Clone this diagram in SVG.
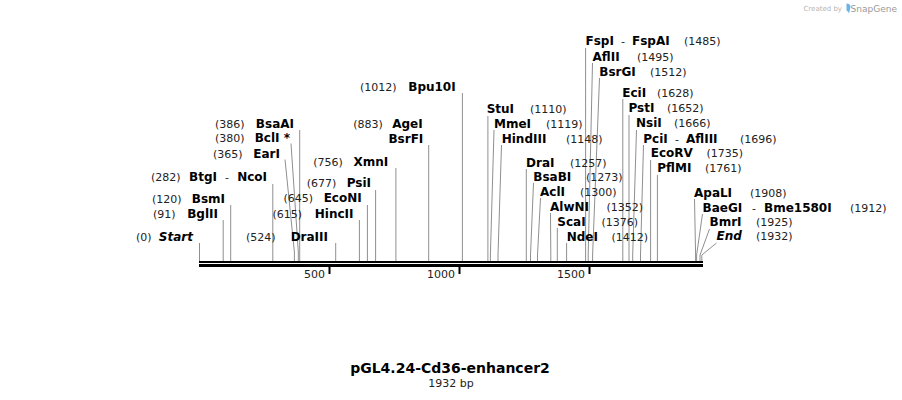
<svg xmlns="http://www.w3.org/2000/svg" width="902" height="400" viewBox="0 0 902 400">
<style>
.n{font-family:Verdana,"DejaVu Sans",sans-serif;font-size:12px;font-weight:bold;fill:#000}
.it{font-family:Verdana,"DejaVu Sans",sans-serif;font-size:12px;font-weight:bold;font-style:italic;fill:#000}
.num{font-family:Verdana,"DejaVu Sans",sans-serif;font-size:11px;fill:#222}
.dash{font-family:Verdana,"DejaVu Sans",sans-serif;font-size:11px;fill:#222}
.e{text-anchor:end}
.ld{fill:none;stroke:#8f8f8f;stroke-width:1}
.tk{font-family:Verdana,"DejaVu Sans",sans-serif;font-size:11px;fill:#222;text-anchor:end}
</style>
<rect width="902" height="400" fill="#fff"/>
<g id="logo">
<text x="842" y="11" font-family="'DejaVu Sans',sans-serif" font-size="7" fill="#b5b5b5" text-anchor="end">Created by</text>
<path d="M846.5,3.5 q4,0 4,3.5 l-1.5,6.5 q-0.5,-2 -2.5,-3 z" fill="#6ab4e8"/>
<text x="897" y="11.5" font-family="'DejaVu Sans',sans-serif" font-size="9" fill="#9a9a9a" text-anchor="end">SnapGene</text>
</g>
<g id="connectors">
<polyline class="ld" points="199.5,261 199.5,243"/>
<polyline class="ld" points="223.2,261 223.2,220"/>
<polyline class="ld" points="230.7,261 230.7,205"/>
<polyline class="ld" points="272.8,261 272.8,184"/>
<polyline class="ld" points="294.4,261 294.4,252 285,159.5"/>
<polyline class="ld" points="298.3,261 298.3,252 291,143.5"/>
<polyline class="ld" points="299.7,261 299.7,130"/>
<polyline class="ld" points="335.7,261 335.7,243"/>
<polyline class="ld" points="359.4,261 359.4,220"/>
<polyline class="ld" points="367.4,261 367.4,205"/>
<polyline class="ld" points="375.6,261 375.6,190"/>
<polyline class="ld" points="395.9,261 395.9,168"/>
<polyline class="ld" points="428.7,261 428.7,145"/>
<polyline class="ld" points="462.4,261 462.4,93"/>
<polyline class="ld" points="487.9,261 487.9,116"/>
<polyline class="ld" points="490.4,261 490.4,255 494,130"/>
<polyline class="ld" points="498,261 498,255 501.5,145"/>
<polyline class="ld" points="526.3,261 526.3,169"/>
<polyline class="ld" points="530.5,261 530.5,255 533.5,183"/>
<polyline class="ld" points="537.5,261 537.5,255 540.5,198"/>
<polyline class="ld" points="550.8,261 550.8,255 550.5,213"/>
<polyline class="ld" points="557.3,261 557.3,228"/>
<polyline class="ld" points="566.6,261 566.6,243"/>
<polyline class="ld" points="585.6,261 585.6,48"/>
<polyline class="ld" points="588.2,261 588.2,255 592.5,63"/>
<polyline class="ld" points="592.6,261 592.6,255 599.5,78"/>
<polyline class="ld" points="622.8,261 622.8,99"/>
<polyline class="ld" points="629,261 629,115"/>
<polyline class="ld" points="632.7,261 632.7,255 636.5,130"/>
<polyline class="ld" points="640.5,261 640.5,255 643.5,145"/>
<polyline class="ld" points="650.6,261 650.6,160"/>
<polyline class="ld" points="657.4,261 657.4,175"/>
<polyline class="ld" points="695.6,261 695.6,255 694.5,199"/>
<polyline class="ld" points="696.6,261 696.6,255 702.5,214"/>
<polyline class="ld" points="700,261 700,255 709.5,229"/>
<polyline class="ld" points="701.8,261 701.8,255 716.5,243"/>
</g>
<g id="backbone">
<rect x="199" y="261" width="504" height="2" fill="#000"/>
<rect x="199" y="264" width="504" height="3" fill="#000"/>
<rect x="328.5" y="266" width="2" height="8" fill="#000"/>
<rect x="458.5" y="266" width="2" height="8" fill="#000"/>
<rect x="588.5" y="266" width="2" height="8" fill="#000"/>
<text class="tk" x="325" y="278">500</text>
<text class="tk" x="455" y="278">1000</text>
<text class="tk" x="585" y="278">1500</text>
</g>
<g id="site-Start"><text class="num" x="136" y="241">(0)</text><text class="it e" x="193" y="241">Start</text></g>
<g id="site-BglII"><text class="num" x="153" y="217.5">(91)</text><text class="n e" x="218" y="217.5">BglII</text></g>
<g id="site-BsmI"><text class="num" x="152" y="202.5">(120)</text><text class="n e" x="225" y="202.5">BsmI</text></g>
<g id="site-BtgI"><text class="num" x="151" y="181">(282)</text><text class="n" x="189" y="181">BtgI</text><text class="dash" x="225" y="181">-</text><text class="n e" x="267" y="181">NcoI</text></g>
<g id="site-EarI"><text class="num" x="213" y="157.5">(365)</text><text class="n e" x="280" y="157.5">EarI</text></g>
<g id="site-BclI"><text class="num" x="215" y="142.3">(380)</text><text class="n e" x="290" y="142.3">BclI *</text></g>
<g id="site-BsaAI"><text class="num" x="215" y="127.7">(386)</text><text class="n e" x="294" y="127.7">BsaAI</text></g>
<g id="site-DraIII"><text class="num" x="246" y="240.5">(524)</text><text class="n e" x="328" y="240.5">DraIII</text></g>
<g id="site-HincII"><text class="num" x="272.5" y="217.5">(615)</text><text class="n e" x="353.5" y="217.5">HincII</text></g>
<g id="site-EcoNI"><text class="num" x="283.5" y="202.3">(645)</text><text class="n e" x="361.7" y="202.3">EcoNI</text></g>
<g id="site-PsiI"><text class="num" x="306.7" y="187.3">(677)</text><text class="n e" x="371" y="187.3">PsiI</text></g>
<g id="site-XmnI"><text class="num" x="313.3" y="165.7">(756)</text><text class="n e" x="388.3" y="165.7">XmnI</text></g>
<g id="site-AgeI"><text class="num" x="353.3" y="127.5">(883)</text><text class="n e" x="422.7" y="127.5">AgeI</text><text class="n e" x="423.3" y="142.7">BsrFI</text></g>
<g id="site-Bpu10I"><text class="num" x="360" y="90.7">(1012)</text><text class="n e" x="455.7" y="90.7">Bpu10I</text></g>
<g id="site-StuI"><text class="n" x="486.7" y="112.5">StuI</text><text class="num" x="530" y="112.5">(1110)</text></g>
<g id="site-MmeI"><text class="n" x="494" y="127.7">MmeI</text><text class="num" x="546" y="127.7">(1119)</text></g>
<g id="site-HindIII"><text class="n" x="501.7" y="142.7">HindIII</text><text class="num" x="566" y="142.7">(1148)</text></g>
<g id="site-DraI"><text class="n" x="526" y="166.5">DraI</text><text class="num" x="570" y="166.5">(1257)</text></g>
<g id="site-BsaBI"><text class="n" x="533.3" y="180.7">BsaBI</text><text class="num" x="586" y="180.7">(1273)</text></g>
<g id="site-AclI"><text class="n" x="540" y="195.7">AclI</text><text class="num" x="580" y="195.7">(1300)</text></g>
<g id="site-AlwNI"><text class="n" x="550" y="211">AlwNI</text><text class="num" x="606.5" y="211">(1352)</text></g>
<g id="site-ScaI"><text class="n" x="557.3" y="226">ScaI</text><text class="num" x="601.5" y="226">(1376)</text></g>
<g id="site-NdeI"><text class="n" x="566.7" y="241">NdeI</text><text class="num" x="611.5" y="241">(1412)</text></g>
<g id="site-FspI"><text class="n" x="585.5" y="45">FspI</text><text class="dash" x="621" y="45">-</text><text class="n" x="632" y="45">FspAI</text><text class="num" x="684" y="45">(1485)</text></g>
<g id="site-AflII"><text class="n" x="592.5" y="60.5">AflII</text><text class="num" x="637" y="60.5">(1495)</text></g>
<g id="site-BsrGI"><text class="n" x="599.3" y="75.7">BsrGI</text><text class="num" x="650" y="75.7">(1512)</text></g>
<g id="site-EciI"><text class="n" x="622.3" y="96.7">EciI</text><text class="num" x="657" y="96.7">(1628)</text></g>
<g id="site-PstI"><text class="n" x="628.5" y="112.3">PstI</text><text class="num" x="667" y="112.3">(1652)</text></g>
<g id="site-NsiI"><text class="n" x="636" y="127.3">NsiI</text><text class="num" x="674" y="127.3">(1666)</text></g>
<g id="site-PciI"><text class="n" x="643.3" y="142.7">PciI</text><text class="dash" x="675" y="142.7">-</text><text class="n" x="686" y="142.7">AflIII</text><text class="num" x="740" y="142.7">(1696)</text></g>
<g id="site-EcoRV"><text class="n" x="650.7" y="157.3">EcoRV</text><text class="num" x="706.5" y="157.3">(1735)</text></g>
<g id="site-PflMI"><text class="n" x="657.3" y="172.3">PflMI</text><text class="num" x="705" y="172.3">(1761)</text></g>
<g id="site-ApaLI"><text class="n" x="694" y="196.7">ApaLI</text><text class="num" x="750" y="196.7">(1908)</text></g>
<g id="site-BaeGI"><text class="n" x="702.5" y="211.7">BaeGI</text><text class="dash" x="752" y="211.7">-</text><text class="n" x="764" y="211.7">Bme1580I</text><text class="num" x="850" y="211.7">(1912)</text></g>
<g id="site-BmrI"><text class="n" x="709.5" y="225.7">BmrI</text><text class="num" x="756" y="225.7">(1925)</text></g>
<g id="site-End"><text class="it" x="716.5" y="240">End</text><text class="num" x="756" y="240">(1932)</text></g>
<g id="title">
<text x="450" y="373.3" font-family="Verdana,'DejaVu Sans',sans-serif" font-size="14" font-weight="bold" text-anchor="middle" fill="#000">pGL4.24-Cd36-enhancer2</text>
<text x="451" y="387" font-family="Verdana,'DejaVu Sans',sans-serif" font-size="11" text-anchor="middle" fill="#222">1932 bp</text>
</g>
</svg>
